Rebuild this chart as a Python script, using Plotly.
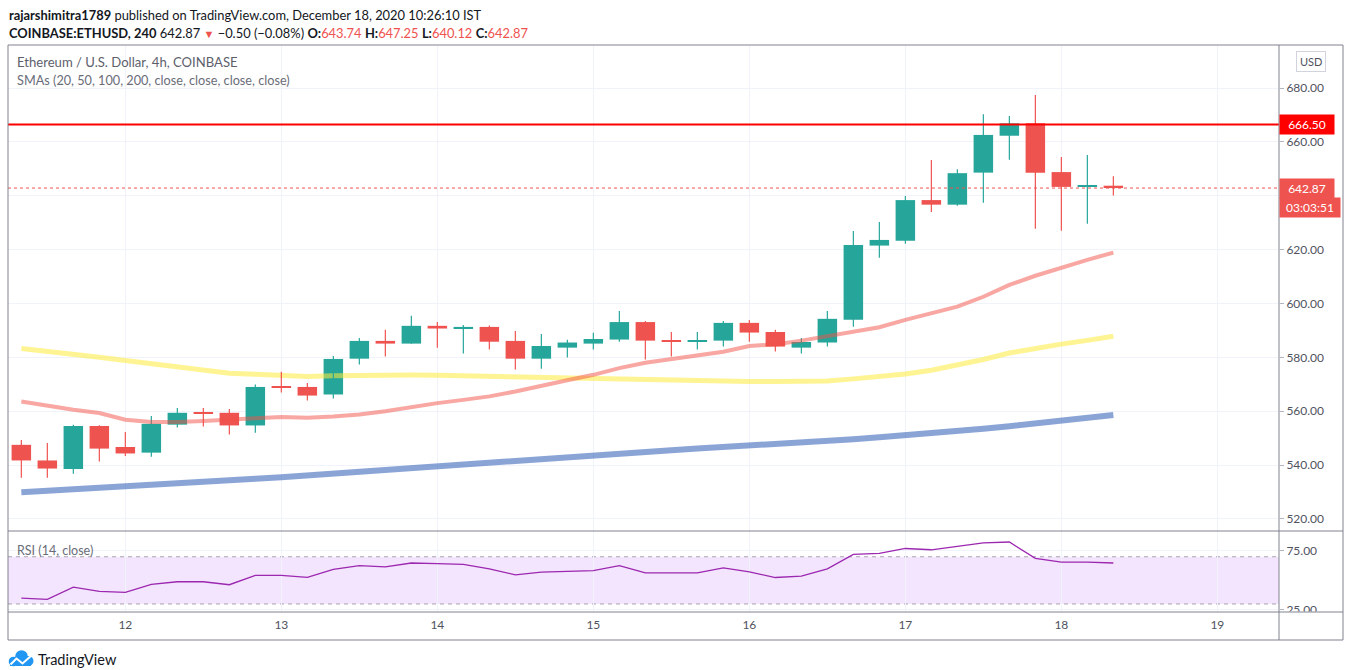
import pandas as pd
import plotly.graph_objects as go

# ---------------- data ----------------
times = pd.date_range("2020-12-11 08:00", periods=43, freq="4h")

opens = [547.5, 541.7, 538.5, 554.5, 546.7, 544.6, 555.0, 559.6, 559.4, 554.7,
         569.2, 569.0, 566.2, 579.5, 586.1, 585.1, 591.7, 590.7, 591.3, 586.1,
         579.5, 583.6, 585.1, 586.6, 593.1, 586.2, 586.0, 586.2, 592.8, 589.4,
         583.6, 585.5, 594.0, 621.5, 623.3, 638.4, 636.7, 648.6, 662.3, 666.9,
         648.8, 643.3, 643.74]
highs = [549.3, 548.2, 555.0, 554.8, 552.3, 558.2, 561.2, 561.2, 560.8, 569.9,
         574.6, 570.5, 580.5, 587.2, 590.2, 595.4, 593.1, 592.0, 591.8, 589.8,
         588.7, 586.5, 589.1, 597.2, 593.5, 589.4, 589.4, 593.5, 593.9, 590.2,
         587.2, 597.2, 626.9, 630.3, 639.9, 653.3, 649.9, 670.3, 669.6, 677.4,
         654.4, 655.1, 647.25]
lows = [535.3, 535.3, 536.8, 541.3, 543.4, 543.1, 553.9, 554.3, 551.3, 552.0,
        566.9, 564.0, 564.7, 577.3, 580.3, 585.0, 583.6, 581.4, 582.9, 575.5,
        575.8, 579.9, 582.9, 585.8, 579.2, 580.3, 582.9, 584.0, 585.8, 582.2,
        581.4, 584.0, 591.4, 617.0, 622.2, 634.0, 636.3, 637.4, 653.4, 627.8,
        627.0, 629.6, 640.12]
closes = [541.7, 538.7, 554.5, 546.1, 544.3, 555.3, 559.4, 559.2, 554.7, 569.0,
          568.8, 565.8, 579.4, 586.1, 585.1, 591.7, 590.7, 591.3, 585.8, 579.5,
          584.2, 585.5, 586.8, 593.1, 586.2, 585.9, 586.4, 592.8, 589.2, 584.0,
          585.7, 594.3, 621.7, 623.6, 638.4, 636.7, 648.4, 662.6, 666.9, 648.6,
          643.3, 643.74, 642.87]

sma20 = [563.6, 562.0, 560.5, 559.3, 556.8, 556.0, 556.0, 556.4, 557.0, 557.4,
         557.8, 557.6, 558.0, 558.8, 560.0, 561.6, 563.0, 564.2, 565.5, 567.3,
         569.5, 571.5, 573.5, 576.0, 578.0, 579.3, 580.6, 582.1, 584.2, 584.8,
         586.2, 587.9, 589.5, 591.2, 593.9, 596.2, 598.8, 602.5, 606.9, 610.3,
         613.4, 616.2, 618.9]
sma50 = [583.3, 582.3, 581.2, 580.0, 578.8, 577.6, 576.4, 575.0, 574.1, 573.7,
         573.5, 572.9, 573.2, 573.4, 573.4, 573.4, 573.3, 573.1, 572.8, 572.5,
         572.2, 572.0, 572.0, 571.7, 571.4, 571.2, 571.1, 571.0, 571.0, 571.0,
         571.0, 571.2, 572.0, 572.8, 573.8, 575.2, 577.0, 579.2, 581.6, 583.4,
         584.9, 586.3, 587.8]
sma200 = [529.9, 530.4, 530.9, 531.5, 532.0, 532.6, 533.1, 533.7, 534.3, 534.9,
          535.5, 536.2, 536.9, 537.6, 538.3, 539.0, 539.6, 540.3, 541.0, 541.7,
          542.4, 543.1, 543.8, 544.4, 545.0, 545.5, 546.1, 546.6, 547.2, 547.8,
          548.4, 549.0, 549.6, 550.3, 551.0, 551.8, 552.6, 553.5, 554.4, 555.4,
          556.4, 557.5, 558.6]
rsi = [35.0, 33.9, 44.3, 40.7, 39.8, 46.6, 48.8, 48.8, 46.3, 54.2,
       54.2, 52.5, 59.3, 62.4, 61.5, 64.7, 64.1, 63.6, 59.7, 54.7,
       56.9, 57.5, 58.3, 62.5, 56.3, 56.3, 56.3, 60.5, 57.2, 52.4,
       53.5, 59.7, 72.0, 72.8, 77.0, 75.9, 78.6, 81.7, 82.5, 68.6,
       65.5, 65.5, 64.7]

day_ticks = ["2020-12-12", "2020-12-13", "2020-12-14", "2020-12-15",
             "2020-12-16", "2020-12-17", "2020-12-18", "2020-12-19"]
day_labels = ["12", "13", "14", "15", "16", "17", "18", "19"]
price_ticks = [520, 540, 560, 580, 600, 620, 640, 660, 680]
price_labels = ["520.00", "540.00", "560.00", "580.00", "600.00", "620.00", "", "660.00", "680.00"]
rsi_ticks = [25, 75]
rsi_labels = ["25.00", "75.00"]
resistance = 666.50
last_price = 642.87

# ---------------- geometry helpers (pixel -> paper) ----------------
W, H = 1350, 670
ML, MR, MT, MB = 8, 71, 45, 58
PW = W - ML - MR
PH = H - MT - MB
SPLIT = (612 - 531) / PH


def px(xp):
    return (xp - ML) / PW


def py(yp):
    return (H - MB - yp) / PH


FONT = "Lato, 'Open Sans', sans-serif"
GRID = "#F0F3FA"
FRAME = "#80838E"
TXT = "#131722"
AXT = "#50535E"
UP = "#26A69A"
DOWN = "#EF5350"
BODY_MS = 4 * 3600 * 1000 * 19.5 / 26  # candle body width (ms)

# split candles into rising / falling groups
up_idx = [i for i in range(len(opens)) if closes[i] >= opens[i]]
dn_idx = [i for i in range(len(opens)) if closes[i] < opens[i]]


def wick_xy(idx):
    xs, ys = [], []
    for i in idx:
        xs += [times[i], times[i], None]
        ys += [lows[i], highs[i], None]
    return xs, ys


fig = go.Figure()

fig.add_trace(go.Scatter(x=times, y=sma200, mode="lines", yaxis="y",
                         line=dict(color="rgba(42,89,180,0.55)", width=6),
                         hoverinfo="skip"))
fig.add_trace(go.Scatter(x=times, y=sma50, mode="lines", yaxis="y",
                         line=dict(color="rgba(255,235,59,0.55)", width=5),
                         hoverinfo="skip"))

for idx, col in ((up_idx, UP), (dn_idx, DOWN)):
    wx, wy = wick_xy(idx)
    fig.add_trace(go.Scatter(x=wx, y=wy, mode="lines", yaxis="y",
                             line=dict(color=col, width=1.2), hoverinfo="skip"))
    fig.add_trace(go.Bar(x=[times[i] for i in idx],
                         base=[min(opens[i], closes[i]) for i in idx],
                         y=[max(abs(closes[i] - opens[i]), 0.4) for i in idx],
                         width=BODY_MS, yaxis="y",
                         marker=dict(color=col, line=dict(width=0)), hoverinfo="skip"))

fig.add_trace(go.Scatter(x=times, y=sma20, mode="lines", yaxis="y",
                         line=dict(color="rgba(242,80,70,0.5)", width=4),
                         hoverinfo="skip"))
fig.add_trace(go.Scatter(x=times, y=rsi, mode="lines", yaxis="y2",
                         line=dict(color="#9C27B0", width=1.3),
                         hoverinfo="skip"))

shapes = []
# RSI band
shapes.append(dict(type="rect", xref="paper", x0=0, x1=1, yref="y2", y0=30, y1=70,
                   fillcolor="#F3E5FD", line=dict(width=0), layer="below"))
for lvl in (30, 70):
    shapes.append(dict(type="line", xref="paper", x0=0, x1=1, yref="y2", y0=lvl, y1=lvl,
                       line=dict(color="#A9A4B2", width=1, dash="4px,4px"), layer="below"))
# resistance line
shapes.append(dict(type="line", xref="paper", x0=0, x1=1, yref="y", y0=resistance, y1=resistance,
                   line=dict(color="#FF0000", width=2)))
# last price dotted
shapes.append(dict(type="line", xref="paper", x0=0, x1=1, yref="y", y0=last_price, y1=last_price,
                   line=dict(color=DOWN, width=1, dash="dot")))
# clip lower half of the 25.00 label
shapes.append(dict(type="rect", xref="paper", yref="paper", x0=1.0005, x1=px(1342),
                   y0=py(624), y1=py(611.5), fillcolor="white", line=dict(width=0), layer="above"))
# frame
shapes.append(dict(type="rect", xref="paper", yref="paper", x0=0, x1=px(1343), y0=py(640), y1=1,
                   line=dict(color=FRAME, width=1), layer="above"))
shapes.append(dict(type="line", xref="paper", yref="paper", x0=1, x1=1, y0=py(640), y1=1,
                   line=dict(color=FRAME, width=1), layer="above"))
shapes.append(dict(type="line", xref="paper", yref="paper", x0=0, x1=px(1343), y0=SPLIT, y1=SPLIT,
                   line=dict(color=FRAME, width=1), layer="above"))
shapes.append(dict(type="line", xref="paper", yref="paper", x0=0, x1=px(1343), y0=0, y1=0,
                   line=dict(color=FRAME, width=1), layer="above"))


# TradingView logo (cloud)
def circ(cx, cy, r, color):
    return dict(type="circle", xref="paper", yref="paper", x0=px(cx - r), x1=px(cx + r),
                y0=py(cy + r), y1=py(cy - r), fillcolor=color, line=dict(width=0), layer="above")


LOGO = "#2196F3"
shapes.append(circ(13.5, 661.5, 4.8, LOGO))
shapes.append(circ(21.5, 656.5, 6.3, LOGO))
shapes.append(circ(28.5, 661.0, 5.0, LOGO))
shapes.append(dict(type="rect", xref="paper", yref="paper", x0=px(10), x1=px(31), y0=py(666), y1=py(660),
                   fillcolor=LOGO, line=dict(width=0), layer="above"))
zig = [(10.5, 664.5), (16.5, 658.5), (22.5, 663.5), (31.5, 655.5)]
path = "M " + " L ".join(f"{px(a):.5f},{py(b):.5f}" for a, b in zig)
shapes.append(dict(type="path", xref="paper", yref="paper", path=path,
                   line=dict(color="white", width=2), layer="above"))

R = "#EF5350"
line1 = "<b>rajarshimitra1789</b> published on TradingView.com, December 18, 2020 10:26:10 IST"
line2 = ("<b>COINBASE:ETHUSD, 240</b> 642.87 <span style='color:%s;font-size:11px'>▼</span> "
         "−0.50 (−0.08%%) <b>O:</b><span style='color:%s'>643.74</span> "
         "<b>H:</b><span style='color:%s'>647.25</span> <b>L:</b><span style='color:%s'>640.12</span> "
         "<b>C:</b><span style='color:%s'>642.87</span>") % (R, R, R, R, R)

ann = []


def text(xp, yp, s, size, color, anchor="left"):
    ann.append(dict(xref="paper", yref="paper", x=px(xp), y=py(yp), text=s, showarrow=False,
                    xanchor=anchor, yanchor="middle", font=dict(family=FONT, size=size, color=color)))


text(7, 15, line1, 12.9, TXT)
text(7, 33, line2, 12.9, TXT)
text(15, 62, "Ethereum / U.S. Dollar, 4h, COINBASE", 13.1, "#5D606B")
text(15, 80, "SMAs (20, 50, 100, 200, close, close, close, close)", 12.7, "#6A6D78")
text(15, 550, "RSI (14, close)", 12.5, "#6A6D78")
text(36, 659, "TradingView", 14.5, TXT)

# USD badge
ann.append(dict(xref="paper", yref="paper", x=px(1311), y=py(61), text="USD", showarrow=False,
                xanchor="center", yanchor="middle", font=dict(family=FONT, size=11, color=AXT),
                bordercolor="#D1D4DC", borderwidth=1, borderpad=3, bgcolor="white"))


def tag(yv, yref, s, bg, w):
    ann.append(dict(xref="paper", yref=yref, x=1, y=yv, text=s, showarrow=False,
                    xanchor="left", yanchor="middle", width=w, height=17, align="center",
                    font=dict(family=FONT, size=12, color="white"), bgcolor=bg, borderpad=1))


tag(resistance, "y", "666.50", "#FF0000", 52)
tag(last_price, "y", "642.87", DOWN, 52)
tag(py(207), "paper", "03:03:51", DOWN, 58)

fig.update_layout(
    width=W, height=H,
    margin=dict(l=ML, r=MR, t=MT, b=MB, pad=0),
    paper_bgcolor="white", plot_bgcolor="white",
    showlegend=False, barmode="overlay",
    font=dict(family=FONT, color=AXT, size=12),
    shapes=shapes, annotations=ann,
    xaxis=dict(type="date", anchor="y2",
               range=["2020-12-11 05:57", "2020-12-19 09:29"],
               tickvals=day_ticks, ticktext=day_labels,
               showgrid=True, gridcolor=GRID, zeroline=False, showline=False,
               ticks="outside", ticklen=2, tickcolor="rgba(0,0,0,0)",
               tickfont=dict(family=FONT, size=12, color=AXT), fixedrange=True),
    yaxis=dict(domain=[SPLIT, 1], side="right", anchor="x",
               range=[515.5, 696], tickvals=price_ticks, ticktext=price_labels,
               showgrid=True, gridcolor=GRID, zeroline=False, showline=False,
               ticks="outside", ticklen=4, tickcolor="#B2B5BE",
               tickfont=dict(family=FONT, size=12, color=AXT)),
    yaxis2=dict(domain=[0, SPLIT], side="right", anchor="x",
                range=[23.2, 91.8], tickvals=rsi_ticks, ticktext=rsi_labels,
                showgrid=True, gridcolor=GRID, zeroline=False, showline=False,
                ticks="outside", ticklen=4, tickcolor="#B2B5BE",
                tickfont=dict(family=FONT, size=12, color=AXT)),
)

fig.write_html("out.html", config={"displayModeBar": False},
               post_script="document.body.style.margin='0px';")
